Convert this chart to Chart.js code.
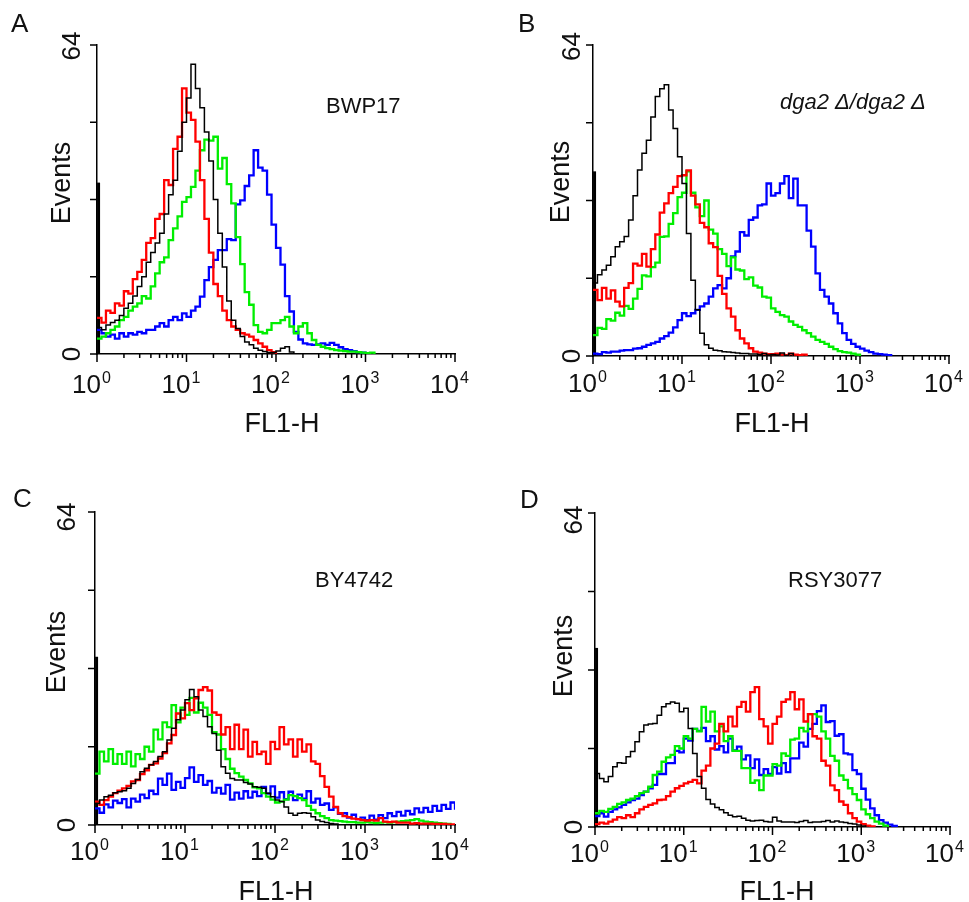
<!DOCTYPE html>
<html lang="en">
<head>
<meta charset="utf-8">
<title>FL1-H histograms</title>
<script src="https://cdn.jsdelivr.net/npm/chart.js@4.4.1/dist/chart.umd.min.js"></script>
<style>
  html, body { margin: 0; padding: 0; background: #fff; }
  #figure { position: relative; width: 969px; height: 902px; overflow: hidden; }
  #figure canvas { position: absolute; }
</style>
</head>
<body>
<div id="figure">
  <canvas id="chart-a" width="480" height="451" style="left:0;top:0"></canvas>
  <canvas id="chart-b" width="489" height="451" style="left:480px;top:0"></canvas>
  <canvas id="chart-c" width="480" height="451" style="left:0;top:451px"></canvas>
  <canvas id="chart-d" width="489" height="451" style="left:480px;top:451px"></canvas>
</div>
<script>
// histogram bins: 20 per decade, 10^0 .. 10^4 -> bins 0..80
var BINS_PER_DECADE = 20;
var X_EXPONENTS = ['0', '1', '2', '3', '4'];
var Y_TICKS = [0, 16, 32, 48, 64];
var Y_TICK_LABELS = ['0', '64'];
var X_TITLE = 'FL1-H';
var Y_TITLE = 'Events';
var PANEL_LETTERS = ['A', 'B', 'C', 'D'];
var SAMPLE_NAMES = ['BWP17', 'dga2 \u0394/dga2 \u0394', 'BY4742', 'RSY3077'];

// events piled up in the first channel (thick bar on the y axis)
var FIRST_CHANNEL = [35.5, 38, 34.4, 36.5];

// A - BWP17
var A_BLACK = [5.5, 5, 6, 6.5, 7, 8, 9.5, 10.5, 12, 14, 16, 19, 21, 23, 25, 29, 33, 36, 42, 48, 53, 60, 55, 51, 46, 40, 32, 25, 18, 11, 7, 5.3, 3.6, 2.5, 1.9, 1.2, 0.8, 0.5, 0.3, 0.3, 0.6, 1.2, 1.5, 0.4, 0];
var A_RED = [7.5, 6.5, 9, 8.5, 10.5, 10, 13, 12.5, 15.5, 17, 19.5, 23, 24, 28, 29, 36, 35, 42.5, 45, 55, 50, 48.5, 44, 36, 28, 21, 14.5, 12, 9, 7, 5.7, 5, 4.3, 4, 3.6, 2.9, 2.2, 1.5, 0.8, 0.4, 0];
var A_GREEN = [3.2, 3.6, 4.3, 5, 5.7, 7, 7.7, 9, 9.8, 10.5, 12, 11.5, 14, 16.7, 19, 20, 23.6, 26, 28.5, 31.5, 32.5, 34.6, 38, 42.2, 44.4, 44.2, 45, 38.4, 40.6, 35.2, 31.2, 24.2, 18.6, 12.8, 10.2, 6, 4.6, 4.3, 5, 6.4, 6.4, 7, 7.7, 5.7, 4.3, 5.7, 6.4, 4.3, 2.9, 1.9, 1.5, 1.2, 1, 0.8, 0.7, 0.6, 0.5, 0.5, 0.4, 0.3, 0.2, 0.3, 0];
var A_BLUE = [5, 4.3, 3.6, 4, 3.2, 4.3, 3.6, 4.3, 4, 4.6, 4.3, 5, 5, 5.7, 6.4, 5.7, 7, 7.7, 7, 8.4, 7.7, 9, 9.8, 11.9, 15.3, 18, 19.5, 21.5, 21.5, 23.8, 23.6, 31, 31.8, 34.8, 37, 42.2, 38.6, 38, 33, 26.8, 22, 18.5, 12, 8.8, 4.6, 3, 2.2, 2, 1.9, 2, 2.2, 1.9, 2.3, 1.9, 1.4, 1, 0.8, 0.6, 0.4, 0.3, 0];

// B - dga2 delta / dga2 delta
var B_BLACK = [15, 16.7, 17.7, 18.7, 20.4, 22.5, 23.5, 24.6, 28, 33, 38.3, 41.7, 44.4, 49.2, 53.4, 55, 55.8, 50.6, 46.8, 41, 35.5, 25.2, 15.6, 9.5, 4.7, 2.3, 1.6, 1.2, 1.1, 0.9, 0.8, 0.7, 0.6, 0.5, 0.5, 0.4, 0.4, 0.3, 0.5, 0.2, 0.3, 0.2, 0.6, 0.1, 0.5, 0];
var B_RED = [13.6, 11.5, 14, 11.8, 13.5, 11.2, 10.2, 14, 15, 19, 18.6, 21, 18.4, 22, 25, 29.5, 31.4, 33.5, 34.8, 37, 37.2, 38.2, 33, 31.2, 27.4, 26.5, 23.2, 22.4, 16.5, 12.8, 9.8, 8.1, 5.3, 3.6, 2.6, 1.6, 0.9, 0.7, 0.5, 0.4, 0.4, 0.5, 0.3, 0.2, 0.5, 0.3, 0.2, 0.3, 0];
var B_GREEN = [4.3, 5.8, 5.6, 7.6, 7.3, 8.9, 8.3, 10.3, 9.7, 11.8, 13.8, 16.6, 16.4, 18.3, 19.2, 24.5, 24.6, 27.2, 29.4, 32.7, 33.6, 38, 33.6, 30.6, 28.8, 32, 26, 25.2, 22, 21, 18.5, 20.3, 17.8, 17.6, 15.8, 16.2, 14.5, 14.1, 12.2, 12, 9.8, 9.1, 8.4, 8.1, 7.1, 6.4, 6, 5.3, 4.7, 4, 3.3, 2.9, 2.5, 1.9, 1.4, 1, 0.8, 0.7, 0.5, 0.3, 0];
var B_BLUE = [0.5, 0.4, 0.8, 0.7, 0.9, 0.9, 1.1, 1.2, 1.2, 1.5, 1.6, 1.9, 2.3, 2.6, 2.9, 3.6, 4.1, 4.8, 5.9, 7.4, 8.8, 8.2, 8.8, 9.5, 10.2, 10.8, 12.2, 13.9, 14.6, 13.9, 16, 20.5, 21.5, 25.5, 24.8, 28, 28.5, 31, 31.2, 35.5, 33, 33.5, 35.5, 37, 32.5, 36.5, 31, 31, 25.8, 22.5, 17, 13.6, 12.2, 10.8, 8.8, 6.7, 4.7, 3.3, 2.5, 1.9, 1.5, 1.1, 0.8, 0.5, 0.4, 0.3, 0.2, 0];

// C - BY4742
var C_BLACK = [4.4, 5.1, 5.8, 6.1, 6.6, 6.8, 7, 7.5, 8.5, 9.3, 10.9, 11.6, 12.3, 13, 14, 15, 17.4, 19.8, 21.5, 23.5, 25.6, 27.7, 26.2, 23.5, 22.2, 20.1, 18.7, 15.3, 11.9, 10.6, 9.5, 9.2, 9.2, 8.7, 8.4, 7.8, 7.7, 7.5, 6.5, 5.8, 5.1, 4.8, 3.7, 2.4, 2, 2.4, 2.5, 2.4, 1.7, 1, 0.7, 0.5, 0.3, 0.2, 0];
var C_RED = [4.8, 4.1, 5.1, 5.8, 6.5, 7, 7.5, 8, 8.9, 9.2, 10.4, 11.2, 12.3, 12.6, 13.6, 14.7, 16.7, 18.4, 22.8, 21.8, 24.9, 23.5, 25.9, 27.6, 28.2, 27.5, 23, 22.5, 18.5, 20, 15.5, 20.5, 15.5, 19.5, 14, 17, 14.5, 15, 12.5, 17, 15.5, 20, 16.5, 17.5, 14, 17.5, 15, 16.5, 13, 12.5, 10, 7.8, 5.8, 3.7, 2.4, 1.8, 1.6, 1.3, 1.2, 1, 0.9, 1, 0.9, 1.4, 0.7, 0.6, 0.7, 0.5, 0.5, 0.5, 0.3, 0.4, 0.3, 0.3, 0.3, 0.2, 0.2, 0.2, 0.1, 0.1, 0];
var C_GREEN = [10.5, 15, 13, 15.5, 12.5, 14.5, 12.5, 15, 12, 14.5, 13.5, 16, 15, 19.5, 17.5, 21, 20, 24.5, 21, 24, 22.5, 26, 23, 25, 24, 22.5, 19, 18.5, 15.5, 13.5, 11.5, 10.6, 9.9, 9.2, 8.5, 7.7, 7.5, 6.5, 5.8, 5.2, 4.6, 4.8, 5.2, 6.1, 5.9, 5.5, 5.1, 3.9, 3.1, 2.4, 1.8, 1.4, 1, 0.9, 0.8, 0.7, 0.6, 0.6, 0.5, 0.5, 0.6, 0.5, 0.4, 0.5, 0.6, 0.5, 0.6, 0.7, 0.8, 0.9, 1, 1.2, 0.9, 0.7, 0.6, 0.5, 0.4, 0.3, 0.2, 0];
var C_BLUE = [3.4, 2.5, 4.2, 3.6, 5, 4.5, 5.3, 3.6, 5.4, 4.8, 6.2, 5.5, 7, 6.3, 9.5, 8.2, 10.5, 7.2, 8.8, 7.6, 9.6, 11.8, 8.8, 10.2, 8.2, 9, 6.6, 7.6, 6.4, 8.2, 5.2, 6.6, 5.4, 6.9, 5.6, 6.8, 5.9, 7.8, 6.4, 7.9, 5.6, 6.7, 5.3, 6.8, 5.1, 6.2, 5.4, 6.9, 4.6, 5.4, 4.1, 4.4, 3.1, 3.6, 2.3, 2.4, 1.5, 2.1, 1.2, 1.5, 1, 1.9, 1.1, 2, 1.4, 2.4, 1.8, 2.7, 1.9, 2.9, 2.2, 3.4, 2.6, 3.5, 2.7, 3.9, 2.9, 4.1, 3.3, 4.6, 3.1, 0];

// D - RSY3077
var D_BLACK = [10.9, 9.9, 9.2, 10.3, 12.3, 13.1, 13, 14.3, 15.4, 17.4, 19.4, 20.8, 21, 21.1, 22.8, 24.5, 25.1, 25.5, 25.2, 23.5, 24.2, 20.1, 15, 10.3, 7.9, 5.6, 4.7, 4, 3.5, 2.9, 2.4, 2.1, 2.2, 1.8, 1.4, 1.2, 1.3, 1.4, 1.1, 1, 2, 1.2, 1, 1, 1, 0.9, 1.1, 1.3, 0.9, 1, 1, 1.1, 1.3, 1, 1.2, 1, 0.9, 0.7, 0.6, 0.4, 0.2, 0];
var D_RED = [0.6, 0.9, 0.7, 1.1, 1.5, 2, 1.8, 2.4, 2, 2.8, 3.6, 4.1, 4.5, 4.8, 5.5, 5.6, 6.3, 7.2, 7.9, 8.4, 8.9, 9.2, 9.6, 8.9, 11.5, 12.5, 16, 17, 21, 19.5, 22.5, 20.5, 24.5, 25.5, 23.5, 27.5, 28.5, 22, 20.5, 17, 21, 22.5, 25.5, 26, 27.5, 24, 26, 21.5, 23, 18.5, 18, 13.5, 12.5, 8.5, 7.5, 5.2, 4.5, 2.8, 1.8, 1.1, 0.6, 0.3, 0.1, 0];
var D_GREEN = [2.8, 3.3, 3.1, 3.7, 4.1, 4.7, 5, 5.5, 5.8, 6.3, 6.9, 7.2, 8.2, 10.6, 11.3, 13.3, 14.2, 14.7, 16.5, 16, 18.5, 18, 20, 19.5, 24.5, 21.5, 23.5, 19.5, 20.5, 17.5, 18.5, 15.5, 15.5, 12, 12, 9, 9.5, 7.5, 10.5, 10.5, 12.8, 12.5, 15, 14.5, 17.8, 18, 20.2, 19.5, 23, 23, 22.5, 19.5, 18, 14.5, 13.5, 10.5, 9.6, 7.9, 6.7, 5.5, 3.6, 2.6, 1.8, 1.1, 0.7, 0.3, 0];
var D_BLUE = [2.2, 2.8, 2.1, 3.1, 3.6, 4, 4.5, 5, 5.5, 5.8, 6.5, 7.2, 7.9, 8.6, 10.8, 10.8, 13, 13, 15.5, 15.2, 18, 17.6, 20, 19.6, 20.2, 17.5, 18.5, 15.8, 16.5, 15.2, 18, 15.6, 16.4, 13.8, 14.6, 12, 13.8, 10.6, 11.8, 10.8, 12.2, 10.9, 13, 11.2, 14, 14, 17.2, 16.4, 20, 21, 23.6, 24.8, 21.4, 21.6, 18.6, 18.9, 15, 14.8, 11.6, 10.8, 7.8, 5.6, 3.8, 2.4, 1.4, 0.9, 0.5, 0.2, 0];

var SERIES = [
  [A_BLACK, A_RED, A_GREEN, A_BLUE],
  [B_BLACK, B_RED, B_GREEN, B_BLUE],
  [C_BLACK, C_RED, C_GREEN, C_BLUE],
  [D_BLACK, D_RED, D_GREEN, D_BLUE]
];

var COLORS = ['#000000', '#ff0000', '#00ee00', '#0000ff'];
var WIDTHS = [1.5, 2.3, 2.3, 2.3];
var FONT = '"Liberation Sans", Arial, Helvetica, sans-serif';

// where each panel's plot box and labels sit inside its canvas
var LAYOUTS = [
  { id: 'chart-a', area: { left: 97, top: 45, right: 455, bottom: 354 }, letter: [11, 32], sample: [326, 113], italic: false, eventsX: 70, eventsY: 183, yLabelX: 80, topDy: 1, tickGap: 39, titleX: 282, titleY: 432 },
  { id: 'chart-b', area: { left: 113, top: 45, right: 469, bottom: 356 }, letter: [38, 32], sample: [300, 109], italic: true, eventsX: 89, eventsY: 182, yLabelX: 100, topDy: 1.5, tickGap: 36, titleX: 292, titleY: 432 },
  { id: 'chart-c', area: { left: 95, top: 61, right: 455, bottom: 374 }, letter: [13, 56], sample: [315, 136], italic: false, eventsX: 65, eventsY: 201, yLabelX: 75, topDy: 5, tickGap: 35, titleX: 276, titleY: 449 },
  { id: 'chart-d', area: { left: 115, top: 62, right: 470, bottom: 376 }, letter: [40, 57], sample: [308, 136], italic: false, eventsX: 92, eventsY: 205, yLabelX: 102, topDy: 7, tickGap: 35, titleX: 297, titleY: 449 }
];

function rotatedText(ctx, text, x, y, font) {
  ctx.save();
  ctx.translate(x, y);
  ctx.rotate(-Math.PI / 2);
  ctx.font = font;
  ctx.textAlign = 'center';
  ctx.textBaseline = 'alphabetic';
  ctx.fillText(text, 0, 0);
  ctx.restore();
}

// ticks, superscript labels, titles, panel letter and sample name
var flowAxesPlugin = {
  id: 'flowAxes',
  afterDraw: function (chart, args, opts) {
    var ctx = chart.ctx;
    var area = chart.chartArea;
    var xs = chart.scales.x;
    var ys = chart.scales.y;
    ctx.save();
    ctx.strokeStyle = '#000';
    ctx.fillStyle = '#111';
    ctx.lineWidth = 1.5;
    ctx.beginPath();
    Y_TICKS.forEach(function (v) {
      var y = ys.getPixelForValue(v);
      ctx.moveTo(area.left - 7, y);
      ctx.lineTo(area.left, y);
    });
    for (var d = 0; d < X_EXPONENTS.length; d++) {
      var xd = xs.getPixelForValue(d * BINS_PER_DECADE);
      ctx.moveTo(xd, area.bottom);
      ctx.lineTo(xd, area.bottom + 8);
      if (d === X_EXPONENTS.length - 1) break;
      for (var k = 2; k < 10; k++) {
        var xm = xs.getPixelForValue((d + Math.log10(k)) * BINS_PER_DECADE);
        ctx.moveTo(xm, area.bottom);
        ctx.lineTo(xm, area.bottom + 4);
      }
    }
    ctx.stroke();

    ctx.textBaseline = 'alphabetic';
    X_EXPONENTS.forEach(function (e, d) {
      var x = xs.getPixelForValue(d * BINS_PER_DECADE) + 4;
      var base = area.bottom + opts.tickGap;
      ctx.font = '26px ' + FONT;
      ctx.textAlign = 'right';
      ctx.fillText('10', x, base);
      ctx.font = '16px ' + FONT;
      ctx.textAlign = 'left';
      ctx.fillText(e, x + 1, base - 10);
    });

    rotatedText(ctx, Y_TICK_LABELS[0], opts.yLabelX, ys.getPixelForValue(0), '26px ' + FONT);
    rotatedText(ctx, Y_TICK_LABELS[1], opts.yLabelX, ys.getPixelForValue(64) + opts.topDy, '26px ' + FONT);
    rotatedText(ctx, Y_TITLE, opts.eventsX, opts.eventsY, '27px ' + FONT);

    ctx.font = '27px ' + FONT;
    ctx.textAlign = 'center';
    ctx.fillText(X_TITLE, opts.titleX, opts.titleY);

    ctx.font = '26px ' + FONT;
    ctx.textAlign = 'left';
    ctx.fillText(opts.letterText, opts.letter[0], opts.letter[1]);
    ctx.font = (opts.italic ? 'italic ' : '') + '22px ' + FONT;
    ctx.fillText(opts.sampleText, opts.sample[0], opts.sample[1]);
    ctx.restore();
  }
};

function toPoints(values) {
  return values.map(function (v, i) { return { x: i, y: v }; });
}

function buildPanel(p) {
  var L = LAYOUTS[p];
  var canvas = document.getElementById(L.id);
  var datasets = SERIES[p].map(function (values, s) {
    return {
      data: toPoints(values),
      borderColor: COLORS[s],
      borderWidth: WIDTHS[s],
      stepped: true,
      pointRadius: 0,
      fill: false
    };
  });
  datasets.push({
    data: [{ x: 0.35, y: 0 }, { x: 0.35, y: FIRST_CHANNEL[p] }],
    borderColor: '#000',
    borderWidth: 3,
    pointRadius: 0,
    fill: false
  });

  var opts = Object.assign({ letterText: PANEL_LETTERS[p], sampleText: SAMPLE_NAMES[p] }, L);

  return new Chart(canvas, {
    type: 'line',
    data: { datasets: datasets },
    options: {
      responsive: false,
      animation: false,
      events: [],
      layout: { padding: { left: 0, top: L.area.top, right: canvas.width - L.area.right, bottom: 0 } },
      plugins: {
        legend: { display: false },
        tooltip: { enabled: false },
        flowAxes: opts
      },
      scales: {
        x: {
          type: 'linear', min: 0, max: (X_EXPONENTS.length - 1) * BINS_PER_DECADE,
          grid: { display: false },
          ticks: { display: false },
          border: { display: true, color: '#000', width: 1.5 },
          afterFit: function (scale) { scale.height = canvas.height - L.area.bottom; }
        },
        y: {
          min: 0, max: 64,
          grid: { display: false },
          ticks: { display: false },
          border: { display: true, color: '#000', width: 1.5 },
          afterFit: function (scale) { scale.width = L.area.left; }
        }
      }
    },
    plugins: [flowAxesPlugin]
  });
}

for (var p = 0; p < LAYOUTS.length; p++) buildPanel(p);
</script>
</body>
</html>
